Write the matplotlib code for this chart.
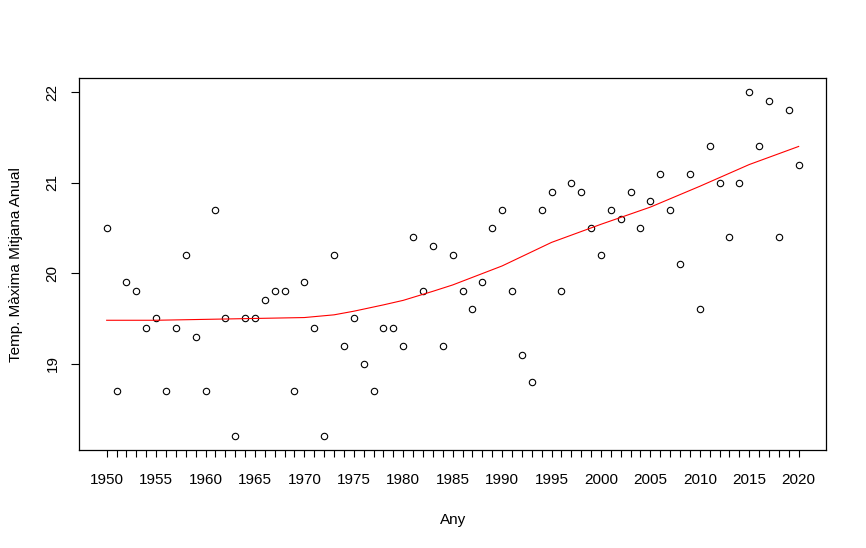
import numpy as np
import matplotlib.pyplot as plt

plt.rcParams['font.family'] = ['Liberation Sans', 'DejaVu Sans']

# dades anuals
anys = list(range(1950, 2021))
temp_max = [20.5, 18.7, 19.9, 19.8, 19.4, 19.5, 18.7, 19.4, 20.2, 19.3,
            18.7, 20.7, 19.5, 18.2, 19.5, 19.5, 19.7, 19.8, 19.8, 18.7,
            19.9, 19.4, 18.2, 20.2, 19.2, 19.5, 19.0, 18.7, 19.4, 19.4,
            19.2, 20.4, 19.8, 20.3, 19.2, 20.2, 19.8, 19.6, 19.9, 20.5,
            20.7, 19.8, 19.1, 18.8, 20.7, 20.9, 19.8, 21.0, 20.9, 20.5,
            20.2, 20.7, 20.6, 20.9, 20.5, 20.8, 21.1, 20.7, 20.1, 21.1,
            19.6, 21.4, 21.0, 20.4, 21.0, 22.0, 21.4, 21.9, 20.4, 21.8,
            21.2]

# corba suavitzada (llegida del grafic)
anys_suau = [1950, 1955, 1960, 1965, 1970, 1973, 1975, 1978, 1980, 1983,
             1985, 1990, 1995, 1997, 2000, 2005, 2010, 2015, 2018, 2020]
temp_suau = [19.48, 19.48, 19.49, 19.50, 19.51, 19.54, 19.58, 19.65, 19.70, 19.80,
             19.87, 20.08, 20.34, 20.42, 20.54, 20.73, 20.96, 21.20, 21.32, 21.40]

fig = plt.figure(figsize=(8.66, 5.48), dpi=100)
ax = fig.add_axes([0.0912, 0.179, 0.863, 0.678])

ax.plot(anys, temp_max, 'o', mfc='none', mec='black', ms=4.6, mew=0.8)
ax.plot(anys_suau, temp_suau, color='red', lw=0.8)

xr = max(anys) - min(anys)
ax.set_xlim(min(anys) - 0.04 * xr, max(anys) + 0.04 * xr)
yr = max(temp_max) - min(temp_max)
ax.set_ylim(min(temp_max) - 0.04 * yr, max(temp_max) + 0.04 * yr)

ax.set_xticks(anys)
ax.set_xticklabels([str(a) if a % 5 == 0 else '' for a in anys])
ax.set_yticks([19, 20, 21, 22])
ax.set_yticklabels(['19', '20', '21', '22'], rotation=90, va='center')

ax.tick_params(axis='x', length=5, width=0.8, labelsize=11, pad=11.5)
ax.tick_params(axis='y', length=6, width=0.8, labelsize=11, pad=8)
for s in ax.spines.values():
    s.set_linewidth(0.9)

ax.set_xlabel('Any', fontsize=11, labelpad=19)
ax.set_ylabel('Temp. Màxima Mitjana Anual', fontsize=11, labelpad=16)

fig.savefig('out.png', dpi=100)
